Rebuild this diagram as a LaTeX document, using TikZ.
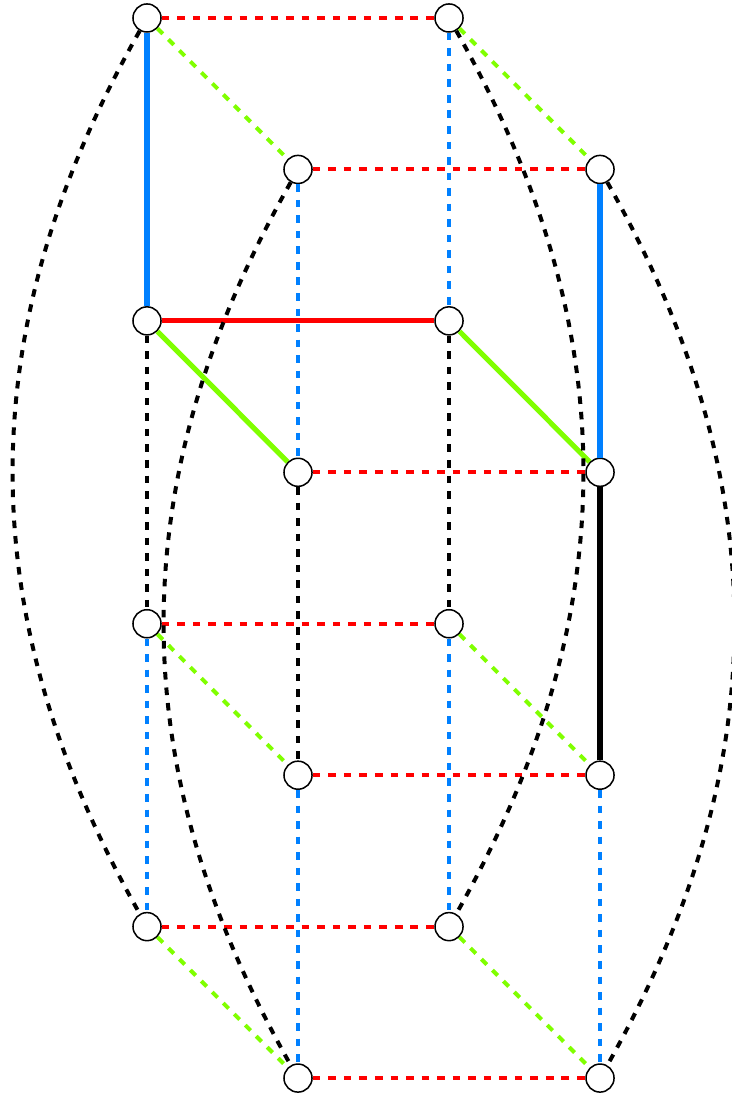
\documentclass[tikz,border=0pt]{standalone}
\usepackage{xcolor}
\usepackage{tikz}
\usetikzlibrary{positioning}
\definecolor{hcred}{RGB}{255, 0, 0}
\definecolor{hcgreen}{RGB}{128, 255, 0}
\definecolor{hcblue}{RGB}{0, 128, 255}

\begin{document}
\begin{tikzpicture}[
    vert/.style={circle, draw=black, fill=white, minimum size=7.4pt, inner sep=0pt, line width=0.4pt},
    offedge/.style={line width=1.05pt, dash pattern=on 2pt off 2.1pt},
    onedge/.style={line width=1.35pt},
    node distance=1.404cm and 1.4cm, on grid
]
    \useasboundingbox (-1.3629,0.1669) rectangle (5.4145,-10.0035);

    % Upper cube
    \node[vert] (v0000) at (0,0) {};
    \node[vert, right=2.8cm of v0000] (v1000) {};
    \node[vert, below right=of v0000] (v0100) {};
    \node[vert, right=2.8cm of v0100] (v1100) {};
    \node[vert, below=2.808cm of v0000] (v0010) {};
    \node[vert, right=2.8cm of v0010] (v1010) {};
    \node[vert, below right=of v0010] (v0110) {};
    \node[vert, right=2.8cm of v0110] (v1110) {};

    % Lower cube
    \node[vert, below=2.808cm of v0010] (v0011) {};
    \node[vert, right=2.8cm of v0011] (v1011) {};
    \node[vert, below right=of v0011] (v0111) {};
    \node[vert, right=2.8cm of v0111] (v1111) {};
    \node[vert, below=2.808cm of v0011] (v0001) {};
    \node[vert, right=2.8cm of v0001] (v1001) {};
    \node[vert, below right=of v0001] (v0101) {};
    \node[vert, right=2.8cm of v0101] (v1101) {};

    % Tree edges
    \draw[onedge, hcblue] (v0000) -- (v0010);
    \draw[onedge, hcblue] (v1100) -- (v1110);
    \draw[onedge, hcred] (v0010) -- (v1010);
    \draw[onedge, hcgreen] (v0010) -- (v0110);
    \draw[onedge, hcgreen] (v1010) -- (v1110);
    \draw[onedge, black] (v1110) -- (v1111);

    % Red edges
    \draw[offedge, hcred] (v0000) -- (v1000);
    \draw[offedge, hcred] (v0100) -- (v1100);
    \draw[offedge, hcred] (v0110) -- (v1110);
    \draw[offedge, hcred] (v0011) -- (v1011);
    \draw[offedge, hcred] (v0111) -- (v1111);
    \draw[offedge, hcred] (v0001) -- (v1001);
    \draw[offedge, hcred] (v0101) -- (v1101);

    % Green edges
    \draw[offedge, hcgreen] (v0000) -- (v0100);
    \draw[offedge, hcgreen] (v1000) -- (v1100);
    \draw[offedge, hcgreen] (v0011) -- (v0111);
    \draw[offedge, hcgreen] (v1011) -- (v1111);
    \draw[offedge, hcgreen] (v0001) -- (v0101);
    \draw[offedge, hcgreen] (v1001) -- (v1101);

    % Blue edges
    \draw[offedge, hcblue] (v1000) -- (v1010);
    \draw[offedge, hcblue] (v0100) -- (v0110);
    \draw[offedge, hcblue] (v0011) -- (v0001);
    \draw[offedge, hcblue] (v1011) -- (v1001);
    \draw[offedge, hcblue] (v0111) -- (v0101);
    \draw[offedge, hcblue] (v1111) -- (v1101);

    % Black edges
    \draw[offedge, black] (v0010) -- (v0011);
    \draw[offedge, black] (v1010) -- (v1011);
    \draw[offedge, black] (v0110) -- (v0111);
    \draw[offedge, black] (v0000) to[bend right=29.5] (v0001);
    \draw[offedge, black] (v1000) to[bend left=29.5] (v1001);
    \draw[offedge, black] (v0100) to[bend right=29.5] (v0101);
    \draw[offedge, black] (v1100) to[bend left=29.5] (v1101);

\end{tikzpicture}
\end{document}
